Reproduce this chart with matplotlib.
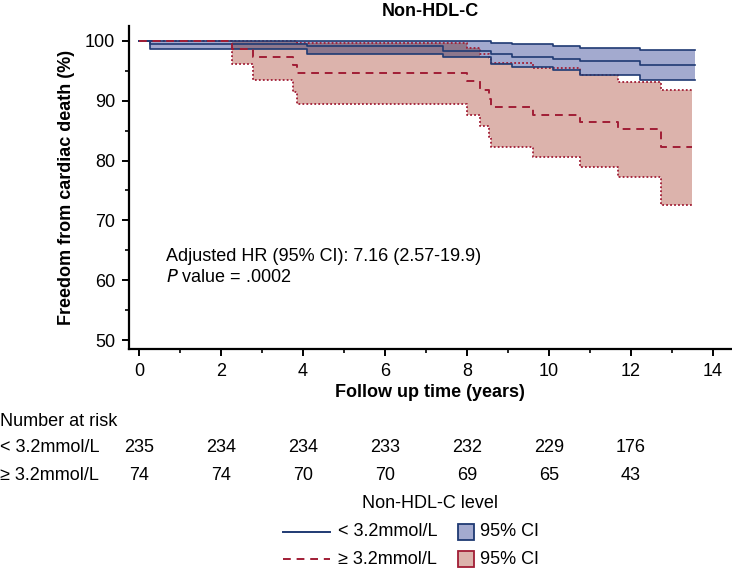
import numpy as np
import matplotlib
matplotlib.use("Agg")
import matplotlib.pyplot as plt
from matplotlib.lines import Line2D
from matplotlib.patches import Rectangle
from matplotlib.ticker import MultipleLocator

plt.rcParams['font.family'] = ['Liberation Sans', 'DejaVu Sans']

# ---------------- data ----------------
blue_t = [0, 0.27, 4.10, 7.42, 8.58, 9.09, 10.09, 10.76, 12.22]
blue_end = 13.56
blue_s = [100, 99.57, 99.15, 98.3, 97.8, 97.4, 97.0, 96.6, 96.0]
blue_hi = [100, 100, 100, 100, 99.7, 99.5, 99.2, 98.8, 98.5]
blue_lo = [100, 98.6, 97.9, 97.3, 96.2, 95.7, 95.2, 94.3, 93.4]

red_t = [0, 2.28, 2.77, 3.76, 3.85, 7.99, 8.32, 8.53, 8.59, 9.60, 10.76, 11.69, 12.73]
red_end = 13.48
red_s = [100, 98.65, 97.3, 95.9, 94.6, 93.3, 91.8, 90.3, 89.0, 87.7, 86.5, 85.3, 82.2]
red_hi = [100, 100, 100, 100, 99.7, 98.8, 97.9, 97.0, 96.3, 95.4, 94.3, 93.2, 91.8]
red_lo = [100, 96.2, 93.5, 91.5, 89.5, 87.6, 85.7, 84.0, 82.2, 80.6, 78.9, 77.2, 72.6]

risk_times = [0, 2, 4, 6, 8, 10, 12]
risk_low = [235, 234, 234, 233, 232, 229, 176]
risk_high = [74, 74, 70, 70, 69, 65, 43]
group_labels = ['< 3.2mmol/L', '\u2265 3.2mmol/L']

title = 'Non-HDL-C'
xlabel = 'Follow up time (years)'
ylabel = 'Freedom from cardiac death (%)'

# ---------------- style ----------------
navy = '#1f3a73'
blue_fill = '#a3aacf'
red_line = '#a11d35'
red_fill = '#dcb3ac'
FS = 13


def hex2rgb(h):
    h = h.lstrip('#')
    return np.array([int(h[i:i + 2], 16) for i in (0, 2, 4)]) / 255.0


overlap = tuple(hex2rgb(blue_fill) * hex2rgb(red_fill))


def ext(t, v, end):
    return list(t) + [end], list(v) + [v[-1]]


def eval_step(t, v, end, grid):
    idx = np.searchsorted(np.array(t), grid, side='right') - 1
    out = np.array(v, dtype=float)[np.clip(idx, 0, len(v) - 1)]
    out[grid > end] = np.nan
    return out


W, H = 732, 571
fig = plt.figure(figsize=(W / 100, H / 100), dpi=100)
ax = fig.add_axes([129 / W, 1 - 349 / H, (731 - 129) / W, (349 - 26) / H])

xmin = -0.244
xmax = (731 - 139) / 41.0
ax.set_xlim(xmin, xmax)
ax.set_ylim(48.5, 102.5)

# fills
bt, bh = ext(blue_t, blue_hi, blue_end)
_, bl = ext(blue_t, blue_lo, blue_end)
_, bs = ext(blue_t, blue_s, blue_end)
rt, rh = ext(red_t, red_hi, red_end)
_, rl = ext(red_t, red_lo, red_end)
_, rs = ext(red_t, red_s, red_end)

ax.fill_between(rt, rl, rh, step='post', color=red_fill, lw=0, zorder=1)
ax.fill_between(bt, bl, bh, step='post', color=blue_fill, lw=0, zorder=2)

grid = np.array(sorted(set(bt) | set(rt)))
gbh = eval_step(blue_t, blue_hi, blue_end, grid)
gbl = eval_step(blue_t, blue_lo, blue_end, grid)
grh = eval_step(red_t, red_hi, red_end, grid)
grl = eval_step(red_t, red_lo, red_end, grid)
up = np.fmin(gbh, grh)
lo = np.fmax(gbl, grl)
valid = np.isfinite(up) & np.isfinite(lo)
up = np.where(valid & (up > lo), up, np.nan)
lo = np.where(valid & (up > lo), lo, np.nan)
ax.fill_between(grid, lo, up, step='post', color=overlap, lw=0, zorder=3)

# CI borders
ax.step(rt, rh, where='post', color=red_line, lw=1.3, ls=(0, (1, 1.2)), zorder=4)
ax.step(rt, rl, where='post', color=red_line, lw=1.3, ls=(0, (1, 1.2)), zorder=4)
ax.step(bt, bh, where='post', color=navy, lw=1.2, zorder=5)
ax.step(bt, bl, where='post', color=navy, lw=1.2, zorder=5)
ax.step(bt, bs, where='post', color=navy, lw=1.2, zorder=6)
ax.step(rt, rs, where='post', color=red_line, lw=1.4, ls=(0, (4, 3)), zorder=7)

# axes styling
for s in ['top', 'right']:
    ax.spines[s].set_visible(False)
for s in ['left', 'bottom']:
    ax.spines[s].set_linewidth(1.6)
ax.set_xticks(np.arange(0, 15, 2))
ax.set_yticks(np.arange(50, 101, 10))
ax.xaxis.set_minor_locator(MultipleLocator(1))
ax.yaxis.set_minor_locator(MultipleLocator(5))
ax.tick_params(axis='both', which='major', length=5, width=1.4, labelsize=FS, pad=5)
ax.tick_params(axis='both', which='minor', length=3, width=1.2)
ax.set_xlabel(xlabel, fontsize=FS, fontweight='bold', labelpad=3)
ax.set_ylabel(ylabel, fontsize=FS, fontweight='bold', labelpad=7)
ax.set_title(title, fontsize=FS, fontweight='bold', pad=7)

ax.text(0.66, 64.0, 'Adjusted HR (95% CI): 7.16 (2.57-19.9)', fontsize=FS, va='center', ha='left')
ax.text(0.66, 60.4, r'$\it{P}$ value = .0002', fontsize=FS, va='center', ha='left')

# number at risk table
def fx(px):
    return px / W


def fy(py):
    return 1 - py / H


fig.text(fx(0), fy(422), 'Number at risk', fontsize=FS, va='center', ha='left')
for row_y, lab, vals in [(448, group_labels[0], risk_low), (475, group_labels[1], risk_high)]:
    fig.text(fx(0), fy(row_y), lab, fontsize=FS, va='center', ha='left')
    for t, v in zip(risk_times, vals):
        xd = ax.transData.transform((t, 50))[0]
        fig.text(xd / W, fy(row_y), str(v), fontsize=FS, va='center', ha='center')

# legend
fig.text(fx(430), fy(503), 'Non-HDL-C level', fontsize=FS, va='center', ha='center')
fig.add_artist(Line2D([fx(283), fx(330)], [fy(532), fy(532)], color=navy, lw=1.4))
fig.add_artist(Line2D([fx(283), fx(330)], [fy(559), fy(559)], color=red_line, lw=1.4, ls=(0, (4, 3))))
fig.text(fx(338), fy(532), group_labels[0], fontsize=FS, va='center', ha='left')
fig.text(fx(338), fy(559), group_labels[1], fontsize=FS, va='center', ha='left')
fig.add_artist(Rectangle((fx(458), fy(540)), 16 / W, 16 / H, facecolor=blue_fill, edgecolor=navy, lw=1.3))
fig.add_artist(Rectangle((fx(458), fy(567)), 16 / W, 16 / H, facecolor=red_fill, edgecolor=red_line, lw=1.3))
fig.text(fx(480), fy(532), '95% CI', fontsize=FS, va='center', ha='left')
fig.text(fx(480), fy(559), '95% CI', fontsize=FS, va='center', ha='left')

fig.savefig('out.png', dpi=100)
